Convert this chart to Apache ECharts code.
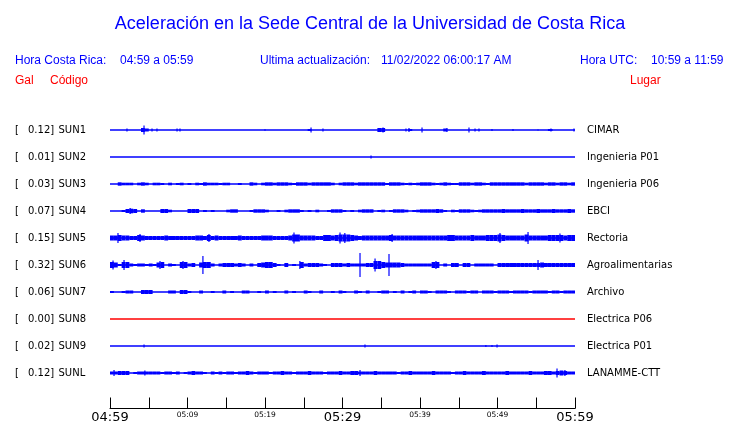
<!DOCTYPE html>
<html>
<head>
<meta charset="utf-8">
<script src="https://cdn.jsdelivr.net/npm/echarts@6/dist/echarts.min.js"></script>
<style>
html,body{margin:0;padding:0;background:#fff;}
#chart{width:740px;height:423px;}
</style>
</head>
<body>
<div id="chart"></div>
<script>
// ---------- DATA ----------
const stationCodes = ['SUN1','SUN2','SUN3','SUN4','SUN5','SUN6','SUN7','SUN8','SUN9','SUNL'];
const stationPlaces = ['CIMAR','Ingenieria P01','Ingenieria P06','EBCI','Rectoria','Agroalimentarias','Archivo','Electrica P06','Electrica P01','LANAMME-CTT'];
const galValues = ['0.12','0.01','0.03','0.07','0.15','0.32','0.06','0.00','0.02','0.12'];
const traceColors = ['#0000ff','#0000ff','#0000ff','#0000ff','#0000ff','#0000ff','#0000ff','#ff0000','#0000ff','#0000ff'];

// time axis (minutes after 04:59)
const timeTicks = [0,10,20,30,40,50,60];
const timeTickLabels = ['04:59','05:09','05:19','05:29','05:39','05:49','05:59'];
const majorTimeLabels = ['04:59','05:29','05:59'];

// envelope amplitude (relative level) per 0.5-minute bin, 120 bins
const BIN_MIN = 0.5;
const envSUN1 = [0,0,0,0,0,0,0,0,2,1.5, 0,0,0,0,0,0,0,0,0,0, 0,0,0,0,0,0,0,0,0,0, 0,0,0,0,0,0,0,0,0,0,
  0,0,0,0,0,0,0,0,0,0, 0,1,0,0,0,0,0,0,0,0, 0,0,0,0,0,0,0,0,0,2, 2,0,0,0,0,0,0,1,0,0,
  0,0,0,0,0,0,1.5,0,0,0, 0,0,0,0,0,0,0,0,0,0, 0,0,0,0,0,0,0,0,0,0, 0,0,0,1,0,0,0,0,0,0];
const envSUN2 = [];
const envSUN3 = [0,0,1.7,1.3,1.3,1.3,0,1.3,1.7,1.3, 0,1.3,1.3,1,0,1.3,0,1,1.3,0, 1,0,1.3,1,1.7,1.3,1.3,1.3,1,1.3,
  1.3,0,0,1,0,0,1.7,1.3,0,1.3, 1.7,1.7,1.3,1.7,1.7,1.7,1.3,1,1.7,1.7, 1.7,1.3,1.7,1.7,1.7,1.7,1.7,1.3,0,1.3,
  1.7,1.7,1.7,1.3,1.7,1.7,1.7,1.7,1.7,1.7, 1.7,1,1.7,1.7,1.7,1.3,1,1.3,1,1.3, 1.7,1.7,1.7,1.3,1,1.3,1.7,1.3,1,1,
  1.7,1.7,1.7,1.3,1.7,1.7,1.3,1,1.7,1.7, 1.7,1.7,1.7,1.7,1.7,1.7,1.7,1.3,1.7,1.7, 1.7,1.7,1.3,1.7,1.7,1.3,1.7,1.7,1.3,1.7];
const envSUN4 = [0,0,0,1,2,2.3,2,0,1.7,0, 0,0,0,2,2,1.3,0,0,0,0, 2,2,2,0,1,0,1,0,0,0,
  1.3,1.7,1.7,0,0,0,1,1.7,1.7,1.7, 1.3,0,0,1,0,1.3,1.7,1.7,1.7,1, 0,1,0,1.3,0,0,1,1.7,1.7,1.7,
  1,0,1,0,1.3,1.7,1.7,1.7,0,1, 1.3,0,1,1.7,1.7,1.7,1.3,0,1,1.3, 1.7,1.7,1.7,1.7,2,1.7,1,0,1.3,1,
  1.7,1.7,1.7,1.3,1,1.3,1.7,1.7,1.7,1.7, 1.7,2,1.7,1.7,1.7,1.7,2,1.7,1.7,1.7, 2,1.7,1.7,1.7,2,1.7,1.7,1.7,2,1.7];
const envSUN5 = [2.5,2.5,3,2.5,2.5,2,2,3,2.5,2, 2,2,2,2,2.5,2,2,2,2,2, 2,2,2.5,2.5,2,3,2,2.5,2,2,
  2,2,2,2.5,2,2,2,2,2,2.5, 2.5,2.5,2,2,2,2,2.5,3.5,3.5,2.5, 2.5,2.5,2.5,2,2,3,3,2.5,3,3.5,
  3.5,3.5,3,2.5,2,2.5,2.5,2.5,2.5,2.5, 2.5,2.5,3,2.5,2.5,2.5,2.5,2.5,2.5,2.5, 2.5,2.5,2.5,2.5,2.5,2.5,2.5,3,3,2.5,
  2.5,2.5,2.5,3,2.5,2.5,2.5,3,3,3, 3.5,3,2.5,2.5,2.5,2.5,2.5,3.5,2.5,2.5, 2.5,2.5,2.5,3,3,3,3,2.5,3,3];
const envSUN6 = [3,2.5,1,3,3,1.5,1,1.5,1.5,1, 1.5,1,2.5,3,0,1.5,1,0,3,3, 1.5,2,0,2.5,3,3,1.5,0,1.5,2,
  2,2,1.5,2,1.5,0,1.5,0,2,2.5, 3,3,2,1,0,2,0,1,0,3, 1.5,2,2,2,1.5,1,0,2,2,2,
  1.5,2,1.5,1.5,1.5,1.5,2,2,4,4, 3,2.5,2.5,2.5,2.5,2,1.5,1.5,1.5,1.5, 1.5,1.5,1.5,3,3,0,1.5,0,2,2,
  0,2,2,0,1.5,1.5,1.5,1.5,1.5,0, 2,2,2,2,2,2,2,2,2,2, 2,2.5,2,2,2,2,2,2,2,2];
const envSUN7 = [1,0,0,1,1.5,1.5,0,0,2,2, 2,0,0,0,0,1.5,1.5,0,2,2, 1,0,0,1.5,0,0,1,0,0,1.5,
  0,1,0,0,1.5,1.5,0,0,1,0, 1.5,0,1,0,0,1.5,0,1,0,0, 1.5,1,0,0,1.5,0,0,1,0,1.5,
  1,0,0,1.5,1,0,1.5,0,0,1, 1.5,1.5,0,1,0,1.5,0,1,1.5,0, 1.5,1.5,1,0,1.5,1.5,1.5,1,0,1.5,
  1.5,1.5,1,1.5,1.5,0,1.5,1.5,1.5,1, 1.5,1.5,1.5,1,1.5,1.5,1.5,1.5,1,1.5, 1.5,1.5,1.5,1,1.5,1.5,1,1.5,1.5,1.5];
const envSUN8 = [];
const envSUN9 = [];
const envSUNL = [1.5,1.5,2,2,2,0,1,1.5,1.5,1.5, 1.5,1.5,1.5,1,1.5,1.5,1,1.5,0,1, 1.5,2,1.5,1.5,1,0,1.5,1,1.5,1,
  1.5,1.5,1,1.5,1.5,2,1.5,1,1.5,1.5, 1.5,1,1.5,1.5,2,1.5,1.5,1,1.5,1.5, 1.5,2,1.5,1.5,1.5,1,1.5,1.5,1.5,2,
  1.5,1.5,2,2,1.5,1.5,1.5,1.5,2,1.5, 1.5,1.5,1.5,1.5,1,1.5,1.5,2,1.5,1.5, 1.5,1.5,1.5,2,1.5,1.5,1.5,1.5,1,1.5,
  1.5,2,1.5,1.5,1.5,1.5,2,1.5,1.5,1.5, 1.5,1.5,2,1.5,1.5,1.5,1.5,1.5,2,1.5, 1.5,1.5,2,2,1.5,2,2.5,2,1.5,1.5];

// isolated peaks [minute, relative level]
const peaksSUN1 = [[2.19,1.5],[4.39,4.5],[5.42,1.5],[6.06,1.5],[8.65,1.5],[9.03,1.5],[20.0,0.8],[25.94,2.5],[27.48,1.5],
  [35.23,2.5],[38.19,1.5],[38.58,2],[40.26,2.5],[43.48,2],[46.32,2.5],[47.1,1.5],[47.61,1.5],[49.29,1],[52.0,1],
  [55.23,0.5],[56.9,1.5],[57.03,1],[59.87,1.5]];
const peaksSUN2 = [[33.68,1.5]];
const peaksSUN3 = [];
const peaksSUN4 = [[2.6,3]];
const peaksSUN5 = [[1.03,5],[3.87,4],[12.77,4],[23.74,5.5],[29.68,5.5],[30.3,5],[36.4,4],[50.32,5],[53.94,6],[58.06,4.5]];
const peaksSUN6 = [[0.39,4.5],[1.81,5],[6.45,4],[9.42,4],[11.99,9],[24.5,4],[32.26,12],[34.2,6.5],[36.0,11],[42.06,4],[55.23,5]];
const peaksSUN7 = [];
const peaksSUN8 = [];
const peaksSUN9 = [[4.39,1.5],[32.9,1.5],[48.5,1],[49.29,1],[49.94,1.5]];
const peaksSUNL = [[0.52,3],[4.5,2.5],[32.26,3],[57.68,4.5],[58.7,3]];

const envelopes = [envSUN1,envSUN2,envSUN3,envSUN4,envSUN5,envSUN6,envSUN7,envSUN8,envSUN9,envSUNL];
const peaks = [peaksSUN1,peaksSUN2,peaksSUN3,peaksSUN4,peaksSUN5,peaksSUN6,peaksSUN7,peaksSUN8,peaksSUN9,peaksSUNL];
const SLOT_LEVELS = 27; // relative levels per trace slot

// ---------- BUILD ----------
const envData = [], peakData = [];
envelopes.forEach((arr, s) => arr.forEach((a, k) => { if (a > 0) envData.push([k * BIN_MIN, s, a]); }));
peaks.forEach((arr, s) => arr.forEach(p => peakData.push([p[0], s, p[1]])));

const baseSeries = stationCodes.map((c, s) => ({
  type: 'line', data: [[0, s], [60, s]], symbol: 'none', silent: true,
  lineStyle: { color: traceColors[s], width: 1.4 }, z: 2
}));

const BLUE = '#0000ff', RED = '#ff0000';
const hdr = (text, x, y, color) => ({ type: 'text', x: x, y: y,
  style: { text: text, fill: color, font: '12px "Liberation Sans", Arial, sans-serif', textVerticalAlign: 'middle' } });

const chart = echarts.init(document.getElementById('chart'), null, { renderer: 'canvas' });
chart.setOption({
  animation: false,
  backgroundColor: '#fff',
  title: { text: 'Aceleración en la Sede Central de la Universidad de Costa Rica', left: 'center', top: 10,
    textStyle: { color: BLUE, fontSize: 18, fontWeight: 'normal', fontFamily: '"Liberation Sans", Arial, sans-serif' } },
  graphic: [
    hdr('Hora Costa Rica:', 15, 61, BLUE), hdr('04:59 a 05:59', 120, 61, BLUE),
    hdr('Ultima actualización:', 260, 61, BLUE), hdr('11/02/2022 06:00:17 AM', 381, 61, BLUE),
    hdr('Hora UTC:', 580, 61, BLUE), hdr('10:59 a 11:59', 651, 61, BLUE),
    hdr('Gal', 15, 81, RED), hdr('Código', 50, 81, RED), hdr('Lugar', 630, 81, RED)
  ],
  grid: { left: 110, width: 465, top: 116.5, height: 270, containLabel: false, outerBoundsMode: 'none' },
  xAxis: {
    type: 'value', min: 0, max: 60, interval: 5, offset: 22,
    axisLine: { show: true, lineStyle: { color: '#000', width: 1 } },
    axisTick: { show: true, inside: true, length: 11, lineStyle: { color: '#000', width: 1 } },
    splitLine: { show: false },
    axisLabel: {
      margin: 3, showMinLabel: true, showMaxLabel: true,
      formatter: v => {
        const i = timeTicks.indexOf(v);
        if (i < 0) return '';
        const t = timeTickLabels[i];
        return majorTimeLabels.indexOf(t) >= 0 ? '{big|' + t + '}' : '{small|' + t + '}';
      },
      rich: {
        big: { fontSize: 13, fontFamily: 'DejaVu Sans', color: '#000' },
        small: { fontSize: 7.5, fontFamily: 'DejaVu Sans', color: '#000' }
      }
    }
  },
  yAxis: [
    { type: 'category', data: stationCodes, inverse: true, position: 'left',
      axisLine: { show: false }, axisTick: { show: false }, splitLine: { show: false },
      axisLabel: { align: 'left', margin: 95,
        formatter: (v, i) => '{b|[}{g|' + galValues[i] + ']}{c|' + v + '}',
        rich: {
          b: { width: 13, fontSize: 10, fontFamily: 'DejaVu Sans', color: '#000' },
          g: { width: 30.5, fontSize: 10, fontFamily: 'DejaVu Sans', color: '#000' },
          c: { fontSize: 10, fontFamily: 'DejaVu Sans', color: '#000' }
        } } },
    { type: 'category', data: stationPlaces, inverse: true, position: 'right',
      axisLine: { show: false }, axisTick: { show: false }, splitLine: { show: false },
      axisLabel: { align: 'left', margin: 12, fontSize: 10, fontFamily: 'DejaVu Sans', color: '#000' } }
  ],
  series: baseSeries.concat([
    { type: 'custom', data: envData, z: 3, silent: true,
      renderItem: (params, api) => {
        const t = api.value(0), s = api.value(1), a = api.value(2);
        const p0 = api.coord([t, s]), p1 = api.coord([t + BIN_MIN, s]);
        const h = a / SLOT_LEVELS * api.size([0, 1])[1];
        return { type: 'rect', shape: { x: p0[0], y: p0[1] - h, width: p1[0] - p0[0], height: 2 * h },
          style: { fill: traceColors[s] } };
      } },
    { type: 'custom', data: peakData, z: 4, silent: true,
      renderItem: (params, api) => {
        const t = api.value(0), s = api.value(1), a = api.value(2);
        const p = api.coord([t, s]);
        const h = a / SLOT_LEVELS * api.size([0, 1])[1];
        return { type: 'line', shape: { x1: p[0], y1: p[1] - h, x2: p[0], y2: p[1] + h },
          style: { stroke: traceColors[s], lineWidth: 1.2 } };
      } }
  ])
});
</script>
</body>
</html>
